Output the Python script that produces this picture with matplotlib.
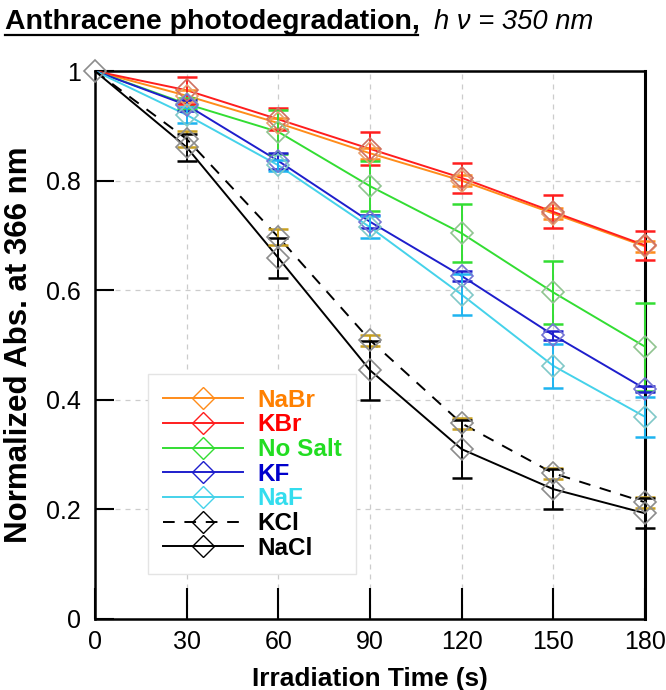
import matplotlib
matplotlib.use('Agg')
import matplotlib.pyplot as plt
from matplotlib import font_manager
from matplotlib.lines import Line2D

# data
time = [0, 30, 60, 90, 120, 150, 180]
names = ['NaBr', 'KBr', 'No Salt', 'KF', 'NaF', 'KCl', 'NaCl']
NaBr = [1, 0.955, 0.905, 0.850, 0.800, 0.740, 0.680]
KBr = [1, 0.965, 0.912, 0.858, 0.805, 0.743, 0.682]
NoSalt = [1, 0.940, 0.889, 0.790, 0.704, 0.596, 0.497]
KF = [1, 0.938, 0.836, 0.725, 0.626, 0.518, 0.420]
NaF = [1, 0.920, 0.828, 0.715, 0.592, 0.462, 0.369]
KCl = [1, 0.876, 0.697, 0.509, 0.357, 0.266, 0.213]
NaCl = [1, 0.861, 0.659, 0.454, 0.310, 0.237, 0.193]

NaBr_err = [0, 0.010, 0.010, 0.010, 0.010, 0.010, 0.010]
KBr_err = [0, 0.025, 0.020, 0.030, 0.027, 0.030, 0.027]
NoSalt_err = [0, 0.010, 0.040, 0.045, 0.053, 0.058, 0.080]
KF_err = [0, 0.010, 0.015, 0.012, 0.010, 0.008, 0.006]
NaF_err = [0, 0.015, 0.010, 0.020, 0.037, 0.040, 0.037]
KCl_err = [0, 0.015, 0.015, 0.010, 0.010, 0.010, 0.010]
NaCl_err = [0, 0.025, 0.036, 0.054, 0.053, 0.037, 0.027]

values = [NaBr, KBr, NoSalt, KF, NaF, KCl, NaCl]
errors = [NaBr_err, KBr_err, NoSalt_err, KF_err, NaF_err, KCl_err, NaCl_err]
line_colors = ['#FF8C1A', '#FF1E1E', '#33DD33', '#1E1ECC', '#45D2EA', 'black', 'black']
err_colors = ['#FF8C1A', '#FF1E1E', '#33DD33', '#1E1ECC', '#1EB4F0', '#C8A020', 'black']
mark_colors = ['#E8A070', '#D07060', '#90C490', '#7474D4', '#80C8C8', '#8C8C8C', '#8C8C8C']
text_colors = ['#FF8000', '#FF0000', '#22DD22', '#0000CC', '#33DDEE', 'black', 'black']
styles = ['-', '-', '-', '-', '-', (0, (6, 5)), '-']

have = {f.name for f in font_manager.fontManager.ttflist}
if 'Liberation Sans Narrow' in have:
    narrow, k = 'Liberation Sans Narrow', 1.0
else:
    narrow, k = 'Liberation Sans', 0.82
plt.rcParams['font.family'] = [narrow, 'DejaVu Sans']

fig = plt.figure(figsize=(6.66, 6.90), dpi=100)
ax = fig.add_axes([0.1426, 0.1029, 0.8259, 0.7941])

for i in range(len(names)):
    ax.plot(time, values[i], color=line_colors[i], lw=1.4, ls=styles[i], zorder=3)
    ax.errorbar(time[1:], values[i][1:], yerr=errors[i][1:], fmt='none',
                ecolor=err_colors[i], elinewidth=1.4, capsize=7, capthick=1.8,
                zorder=4, clip_on=False)
    ax.plot(time[1:], values[i][1:], ls='none', marker='D', ms=11.5,
            mfc='none', mec=mark_colors[i], mew=1.2, zorder=5, clip_on=False)
ax.plot([0], [1], ls='none', marker='D', ms=11.5, mfc='none', mec='#8C8C8C',
        mew=1.2, zorder=5, clip_on=False)

ax.set_xlim(0, 180)
ax.set_ylim(0, 1)
ax.set_xticks(time)
ax.set_xticklabels(['0', '30', '60', '90', '120', '150', '180'])
ax.set_yticks([0, 0.2, 0.4, 0.6, 0.8, 1])
ax.set_yticklabels(['0', '0.2', '0.4', '0.6', '0.8', '1'])
ax.grid(True, ls=(0, (4, 4)), color='#CCCCCC', lw=0.9)
ax.set_axisbelow(True)
ax.tick_params(axis='x', direction='in', length=22, width=1.5, pad=8, labelsize=22 * k)
ax.tick_params(axis='y', direction='in', length=14, width=1.5, pad=10, labelsize=22 * k)
for s in ax.spines.values():
    s.set_linewidth(1.8)
ax.spines['right'].set_linewidth(2.2)

ax.set_xlabel('Irradiation Time (s)', fontsize=23 * k, fontweight='bold', labelpad=9)
ax.set_ylabel('Normalized Abs. at 366 nm', fontsize=22.5, fontweight='bold',
              family='Liberation Sans', labelpad=9)

fig.text(0.008, 0.958, 'Anthracene photodegradation,', fontsize=25 * k,
         fontweight='bold', ha='left', va='baseline')
fig.add_artist(Line2D([0.008, 0.628], [0.950, 0.950], color='black', lw=1.6,
                      transform=fig.transFigure))
fig.text(0.652, 0.958, 'h \u03bd = 350 nm', fontsize=24 * k, style='italic',
         ha='left', va='baseline')

handles = [Line2D([], [], color=line_colors[i], ls=styles[i], lw=1.4, marker='D',
                  ms=11.5, mfc='none', mec=line_colors[i], mew=1.0)
           for i in range(len(names))]
leg = ax.legend(handles, names, loc='upper left', bbox_to_anchor=(0.097, 0.447),
                borderaxespad=0, handlelength=3.3, handletextpad=0.6,
                labelspacing=0.07, frameon=True, fancybox=False, borderpad=0.6,
                edgecolor='#E4E4E4', framealpha=1,
                prop={'family': 'Liberation Sans', 'weight': 'bold', 'size': 17.5})
for t, c in zip(leg.get_texts(), text_colors):
    t.set_color(c)

fig.savefig('out.png', dpi=100)
